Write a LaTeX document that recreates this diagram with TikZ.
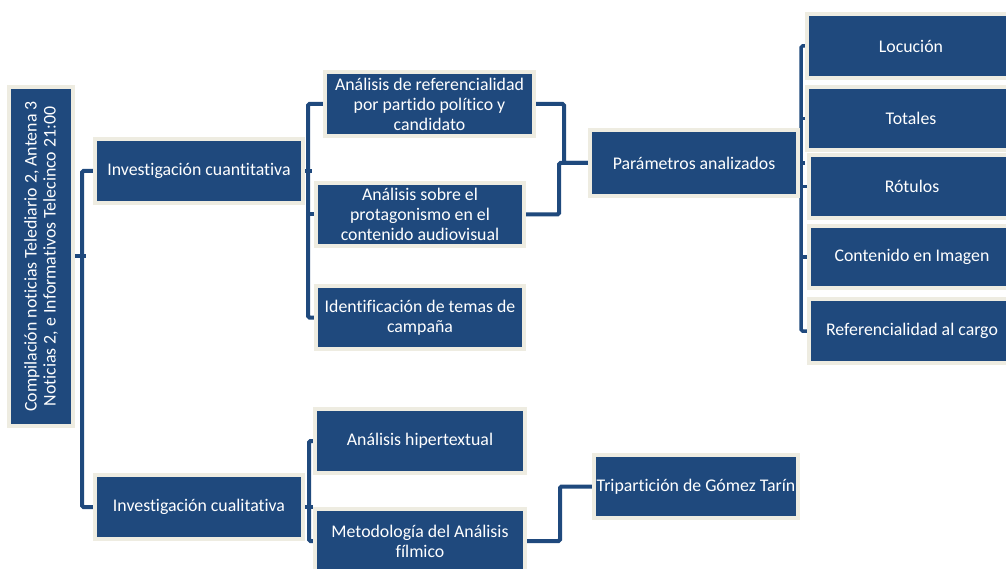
\documentclass[tikz,border=0pt]{standalone}
\usepackage{fontspec}
\setmainfont{Carlito}[Ligatures={NoCommon}]
\usetikzlibrary{backgrounds}
\definecolor{boxblue}{HTML}{1F497D}
\definecolor{lineblue}{HTML}{1F497D}
\definecolor{cream}{HTML}{EEECE1}
\begin{document}
\begin{tikzpicture}[x=1pt,y=-1pt,
  box/.style={draw=cream, line width=4pt, fill=boxblue, text=white,
    font=\fontsize{17.8}{20}\selectfont, align=center, inner sep=0pt},
  conn/.style={draw=lineblue, line width=4pt, rounded corners=1.5pt}]
\useasboundingbox (0,0) rectangle (1006,569);
\clip (0,0) rectangle (1006,569);
% nodes
\node[box, minimum width=64, minimum height=339] (root) at (41,256.5)
  {\rotatebox{90}{\parbox{335pt}{\centering\fontsize{17.8}{19}\selectfont Compilación noticias Telediario 2, Antena 3\\Noticias 2, e Informativos Telecinco 21:00}}};
\node[box, minimum width=208, minimum height=64] (cuant) at (199,171) {Investigación cuantitativa};
\node[box, minimum width=208, minimum height=64] (cual) at (199,507) {Investigación cualitativa};
\node[box, minimum width=209, minimum height=64] (anref) at (429.5,104) {Análisis de referencialidad\\por partido político y\\candidato};
\node[box, minimum width=208, minimum height=63] (ansob) at (420,214.5) {Análisis sobre el\\protagonismo en el\\contenido audiovisual};
\node[box, minimum width=208, minimum height=63] (ident) at (420,317.5) {Identificación de temas de\\campaña};
\node[box, minimum width=210, minimum height=64] (hiper) at (420,441) {Análisis hipertextual};
\node[box, minimum width=210, minimum height=64] (metod) at (420,541) {Metodología del Análisis\\fílmico};
\node[box, minimum width=208, minimum height=66] (param) at (694,163) {Parámetros analizados};
\node[box, minimum width=204, minimum height=63] (trip) at (696,486.5) {Tripartición de Gómez Tarín};
\node[box, minimum width=208, minimum height=64] (loc) at (911,46) {Locución};
\node[box, minimum width=208, minimum height=63] (tot) at (911,118.5) {Totales};
\node[box, minimum width=206, minimum height=63] (rot) at (912,186.5) {Rótulos};
\node[box, minimum width=206, minimum height=62] (cont) at (912,257) {Contenido en Imagen};
\node[box, minimum width=206, minimum height=64] (refc) at (912,331) {Referencialidad al cargo};
% connectors
\begin{scope}[on background layer]
\draw[conn] (root.east) -- ++(11,0);
\draw[conn] (cuant.west) -- ++(-11,0) |- (cual.west);
\draw[conn] (cuant.east) -- ++(7,0);
\draw[conn] (anref.west) -- ++(-15,0) |- (ident.west);
\draw[conn] (ansob.west) -- ++(-6,0);
\draw[conn] (cual.east) -- ++(8,0);
\draw[conn] (hiper.west) -- ++(-4,0) |- (metod.west);
\draw[conn] (anref.east) -- ++(28,0) |- (param.west);
\draw[conn] (ansob.east) -- ++(33,0) |- (param.west);
\draw[conn] (metod.east) -- ++(33,0) |- (trip.west);
\draw[conn, line width=3.5pt] (param.east) -- ++(5,0);
\draw[conn, line width=3.5pt] (loc.west) -- ++(-4,0) |- (refc.west);
\draw[conn, line width=3.5pt] (tot.west) -- ++(-4,0);
\draw[conn, line width=3.5pt] (rot.west) -- ++(-6,0);
\draw[conn, line width=3.5pt] (cont.west) -- ++(-6,0);
\end{scope}
\end{tikzpicture}
\end{document}
